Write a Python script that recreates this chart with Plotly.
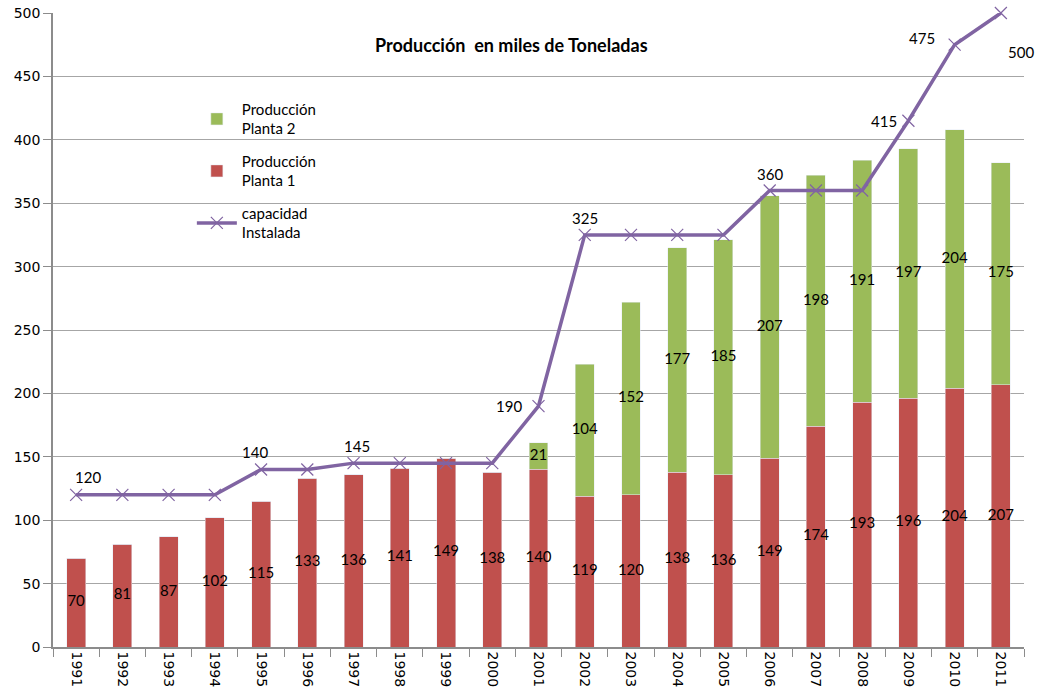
import plotly.graph_objects as go

years = list(range(1991, 2012))
year_labels = [str(y) for y in years]
planta1 = [70, 81, 87, 102, 115, 133, 136, 141, 149, 138, 140, 119, 120, 138, 136, 149, 174, 193, 196, 204, 207]
planta2 = [0, 0, 0, 0, 0, 0, 0, 0, 0, 0, 21, 104, 152, 177, 185, 207, 198, 191, 197, 204, 175]
capacidad = [120, 120, 120, 120, 140, 140, 145, 145, 145, 145, 190, 325, 325, 325, 325, 360, 360, 360, 415, 475, 500]
# which capacity points carry a label, and where it sits (pixel shifts)
cap_label_shift = {
    1991: (12, 18), 1995: (-6, 17), 1997: (3, 17), 2001: (-30, 0),
    2002: (0, 17), 2006: (0, 17), 2009: (-24, 0), 2010: (-33, 7),
    2011: (20, -39),
}

RED = "#C0504D"
GREEN = "#9BBB59"
PURPLE = "#8064A2"
LBL_FONT = dict(family="Lato, Carlito, sans-serif", size=15, color="#000000")

fig = go.Figure()
fig.add_trace(go.Bar(x=years, y=planta1, name="Producción<br>Planta 1", marker_color=RED,
                     legendrank=2, legendgroup="p1"))
fig.add_trace(go.Bar(x=years, y=planta2, name="Producción<br>Planta 2", marker_color=GREEN,
                     legendrank=1, legendgroup="p2"))
fig.add_trace(go.Scatter(x=years, y=capacidad, name="capacidad<br>Instalada", mode="lines+markers",
                         line=dict(color=PURPLE, width=3.5), cliponaxis=False,
                         marker=dict(symbol="x-thin", size=12, line=dict(color=PURPLE, width=1.2)),
                         legendrank=3, legendgroup="cap"))

# bar value labels
fig.add_trace(go.Scatter(x=years, y=[v / 2 for v in planta1], mode="text",
                         text=[str(v) for v in planta1], textfont=LBL_FONT,
                         showlegend=False, hoverinfo="skip"))
fig.add_trace(go.Scatter(x=[y for y, v in zip(years, planta2) if v > 0],
                         y=[a + b / 2 for a, b in zip(planta1, planta2) if b > 0], mode="text",
                         text=[str(v) for v in planta2 if v > 0], textfont=LBL_FONT,
                         showlegend=False, hoverinfo="skip"))

for y, c in zip(years, capacidad):
    if y in cap_label_shift:
        dx, dy = cap_label_shift[y]
        fig.add_annotation(x=y, y=c, text=str(c), showarrow=False, xshift=dx, yshift=dy,
                           font=LBL_FONT)

fig.add_annotation(text="<b>Producción  en miles de Toneladas</b>", xref="paper", yref="paper",
                   x=0.4717, y=0.9495, xanchor="center", yanchor="middle", showarrow=False,
                   font=dict(family="Lato, Carlito, sans-serif", size=18, color="#000000"))

fig.update_layout(
    width=1042, height=698,
    barmode="stack", bargap=0.59,
    plot_bgcolor="white", paper_bgcolor="white",
    margin=dict(l=53, r=18, t=13, b=51),
    legend=dict(x=0.143, y=0.874, xanchor="left", yanchor="top", bgcolor="rgba(0,0,0,0)",
                font=dict(family="Lato, Carlito, sans-serif", size=15, color="#000000"),
                traceorder="grouped", tracegroupgap=10, itemwidth=40),
    showlegend=True,
)
fig.update_xaxes(range=[years[0] - 0.5, years[-1] + 0.5], tickvals=years, ticktext=year_labels,
                 showline=True, linecolor="#8c8c8c", linewidth=1.5,
                 ticks="", tickangle=90, automargin=False,
                 minor=dict(ticks="outside", ticklen=8, tickcolor="#8c8c8c",
                            tick0=years[0] - 0.5, dtick=1, showgrid=False),
                 tickfont=dict(family="DejaVu Sans", size=14, color="#000000"),
                 showgrid=False, zeroline=False)
fig.update_yaxes(range=[0, 500], dtick=50, showline=True, linecolor="#8c8c8c", linewidth=1.5,
                 ticks="outside", ticklen=8, tickcolor="#8c8c8c",
                 showgrid=True, gridcolor="#a6a6a6", gridwidth=1, zeroline=False,
                 automargin=False,
                 tickfont=dict(family="DejaVu Sans", size=14, color="#000000"))

fig.write_html("out.html", config={"displayModeBar": False},
               post_script="document.body.style.margin='0px';")
